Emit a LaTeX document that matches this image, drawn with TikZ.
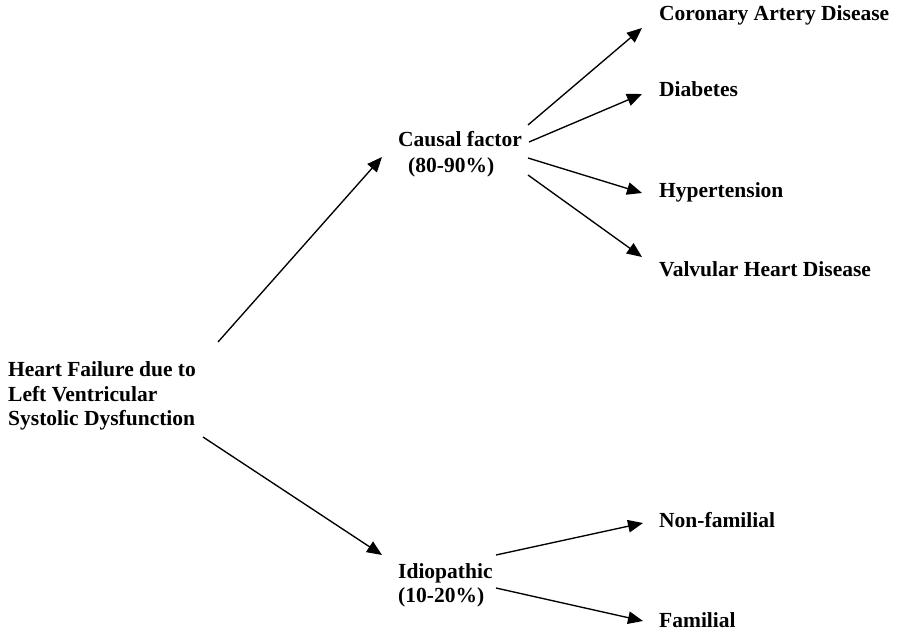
\documentclass[tikz,border=0pt]{standalone}
\usepackage{fontspec}
\setmainfont{Liberation Serif}
\usetikzlibrary{arrows.meta}
\begin{document}
\begin{tikzpicture}[x=1pt,y=-1pt,
  lbl/.style={anchor=base west,inner sep=0pt,font=\fontsize{21.5}{24.5}\selectfont\bfseries},
  arr/.style={line width=1.35pt,-{Triangle[length=15pt,width=12.5pt]}}]
\useasboundingbox (0,0) rectangle (898,631);
% text nodes
\node[lbl] (hf) at (8,377) {\begin{tabular}[t]{@{}l@{}}Heart Failure due to\\[-0.3pt]Left Ventricular\\[-0.3pt]Systolic Dysfunction\end{tabular}};
\node[lbl] (cf) at (398,147) {\begin{tabular}[t]{@{}l@{}}Causal factor\\[1pt]\hspace*{10pt}(80-90\%)\end{tabular}};
\node[lbl] (id) at (398,578) {\begin{tabular}[t]{@{}l@{}}Idiopathic\\(10-20\%)\end{tabular}};
\node[lbl] (cad) at (659,21) {Coronary Artery Disease};
\node[lbl] (dia) at (659,97) {Diabetes};
\node[lbl] (hyp) at (659,198) {Hypertension};
\node[lbl] (vhd) at (659,277) {Valvular Heart Disease};
\node[lbl] (nf) at (659,527) {Non-familial};
\node[lbl] (fam) at (659,627) {Familial};
% connector end points
\coordinate (hf-up) at (218,342);
\coordinate (hf-dn) at (203,437);
\coordinate (cf-in) at (382,157);
\coordinate (id-in) at (382,555);
\coordinate (cf-o1) at (528,125);
\coordinate (cf-o2) at (529,142);
\coordinate (cf-o3) at (528,158);
\coordinate (cf-o4) at (528,175);
\coordinate (cad-in) at (642,28);
\coordinate (dia-in) at (642,94);
\coordinate (hyp-in) at (642,193);
\coordinate (vhd-in) at (642,257);
\coordinate (id-o1) at (496,555);
\coordinate (id-o2) at (496,588);
\coordinate (nf-in) at (643,523);
\coordinate (fam-in) at (643,621);
% connectors
\draw[arr] (hf-up) -- (cf-in);
\draw[arr] (hf-dn) -- (id-in);
\draw[arr] (cf-o1) -- (cad-in);
\draw[arr] (cf-o2) -- (dia-in);
\draw[arr] (cf-o3) -- (hyp-in);
\draw[arr] (cf-o4) -- (vhd-in);
\draw[arr] (id-o1) -- (nf-in);
\draw[arr] (id-o2) -- (fam-in);
\end{tikzpicture}
\end{document}
